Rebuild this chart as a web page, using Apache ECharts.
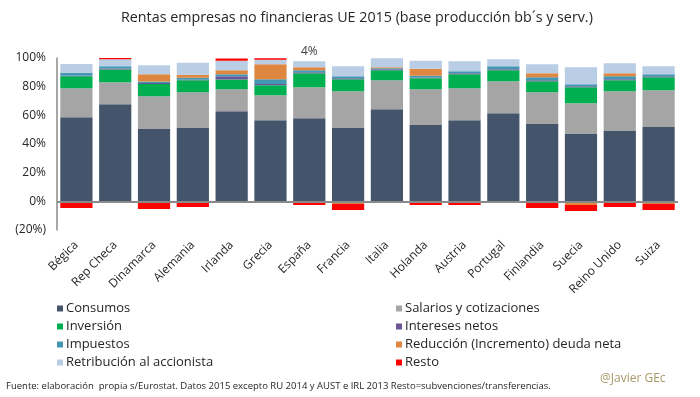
<!DOCTYPE html>
<html><head><meta charset="utf-8">
<script src="https://cdn.jsdelivr.net/npm/echarts@6/dist/echarts.min.js"></script>
<style>html,body{margin:0;padding:0;background:#fff}#c{width:700px;height:397px}</style>
</head><body><div id="c"></div>
<script>
const categories = ['Bégica','Rep Checa','Dinamarca','Alemania','Irlanda','Grecia','España','Francia','Italia','Holanda','Austria','Portugal','Finlandia','Suecia','Reino Unido','Suiza'];
const consumos    = [58.7,67.8,50.4,51.1,62.9,56.6,58.0,51.1,64.3,53.2,56.6,61.5,53.9,46.9,49.0,51.8];
const salarios    = [20.2,15.3,23.0,25.0,15.3,17.4,21.6,25.7,20.2,25.0,22.3,22.3,22.2,21.6,27.8,25.7];
const inversion   = [8.4,8.8,8.5,8.4,6.8,7.0,9.8,8.4,7.0,7.7,9.8,7.7,7.7,11.1,7.7,9.1];
const intereses   = [0.3,0.7,0.7,0.3,2.3,0.9,0.7,0.7,0.7,0.3,0.7,0.7,0.7,0.7,0.7,0.7];
const impuestos   = [2.1,1.6,1.0,1.4,1.4,3.3,1.4,1.4,0.7,1.4,1.4,2.0,2.1,1.4,2.1,1.4];
const reduccion   = [0,-1.2,5.1,2.1,2.8,10.4,2.0,-1.9,0.7,4.9,0,0,2.8,-2.6,2.1,-1.9];
const retribucion = [6.2,4.9,6.2,8.3,6.5,3.1,4.2,6.9,6.3,5.6,6.9,4.9,6.2,11.8,6.9,5.5];
const resto       = [-4.6,0.9,-5.3,-3.9,1.6,1.1,-2.6,-4.2,-1.2,-2.6,-2.6,-1.2,-4.6,-4.2,-3.9,-4.2];
const yTicks = {min:-20, max:100, interval:20};
const labelledIndex = 6; // España

const FONT = 'Open Sans';
const names = ['Consumos','Salarios y cotizaciones','Inversión','Intereses netos','Impuestos','Reducción (Incremento) deuda neta','Retribución al accionista','Resto'];
const colors = ['#44546a','#a5a5a5','#00b050','#6b5594','#4397b2','#df8740','#b9cde5','#ff0000'];
const values = [consumos,salarios,inversion,intereses,impuestos,reduccion,retribucion,resto];

const series = names.map((n,i)=>{
  let data = values[i].slice();
  if (n === 'Retribución al accionista') {
    data = data.map((v,j)=> j===labelledIndex ? {value:v, label:{show:true, position:'top', distance:4, formatter:p=>Math.round(p.value)+'%', color:'#404040', fontSize:12, fontFamily:FONT}} : v);
  }
  const s = {name:n, type:'bar', stack:'t', data:data, itemStyle:{color:colors[i]}, barCategoryGap:'17%'};
  if (i===0) {
    s.markLine = {silent:true, symbol:'none', label:{show:false}, lineStyle:{color:'#8a8a8a', width:2, type:'solid'}, data:[{yAxis:0}], animation:false};
  }
  return s;
});

const chart = echarts.init(document.getElementById('c'), null, {renderer:'canvas'});
chart.setOption({
  animation:false,
  textStyle:{fontFamily:FONT},
  title:{text:'Rentas empresas no financieras UE 2015 (base producción bb´s y serv.)', left:116, top:6,
    textStyle:{fontSize:14.3, fontWeight:'normal', color:'#262626', fontFamily:FONT}},
  grid:{left:57, right:22, top:58, bottom:167, containLabel:false},
  legend:[
    {data:[names[0],names[2],names[4],names[6]], orient:'vertical', left:52, top:297, itemWidth:6, itemHeight:6, itemGap:5, icon:'rect',
      textStyle:{fontSize:13, color:'#262626', fontFamily:FONT, padding:[0,0,0,-2]}},
    {data:[names[1],names[3],names[5],names[7]], orient:'vertical', left:391, top:297, itemWidth:6, itemHeight:6, itemGap:5, icon:'rect',
      textStyle:{fontSize:13, color:'#262626', fontFamily:FONT, padding:[0,0,0,-2]}}
  ],
  xAxis:{type:'category', data:categories, axisLine:{show:false, onZero:false}, axisTick:{show:false},
    axisLabel:{rotate:45, margin:13, fontSize:12, color:'#262626', fontFamily:FONT, interval:0}},
  yAxis:{type:'value', min:yTicks.min, max:yTicks.max, interval:yTicks.interval, splitLine:{show:false},
    axisLine:{show:true, lineStyle:{color:'#8a8a8a', width:1.5}}, axisTick:{show:false},
    axisLabel:{margin:11, fontSize:12, color:'#262626', fontFamily:FONT, formatter:v=> v<0 ? '('+(-v)+'%)' : v+'%'}},
  graphic:[
    {type:'text', left:6, top:381, style:{text:'Fuente: elaboración  propia s/Eurostat. Datos 2015 excepto RU 2014 y AUST e IRL 2013 Resto=subvenciones/transferencias.', fontSize:9.5, fill:'#262626', fontFamily:FONT}},
    {type:'text', left:600, top:373, style:{text:'@Javier GEc', fontSize:12, fill:'#a89868', fontFamily:FONT}}
  ],
  series:series
});
</script></body></html>
